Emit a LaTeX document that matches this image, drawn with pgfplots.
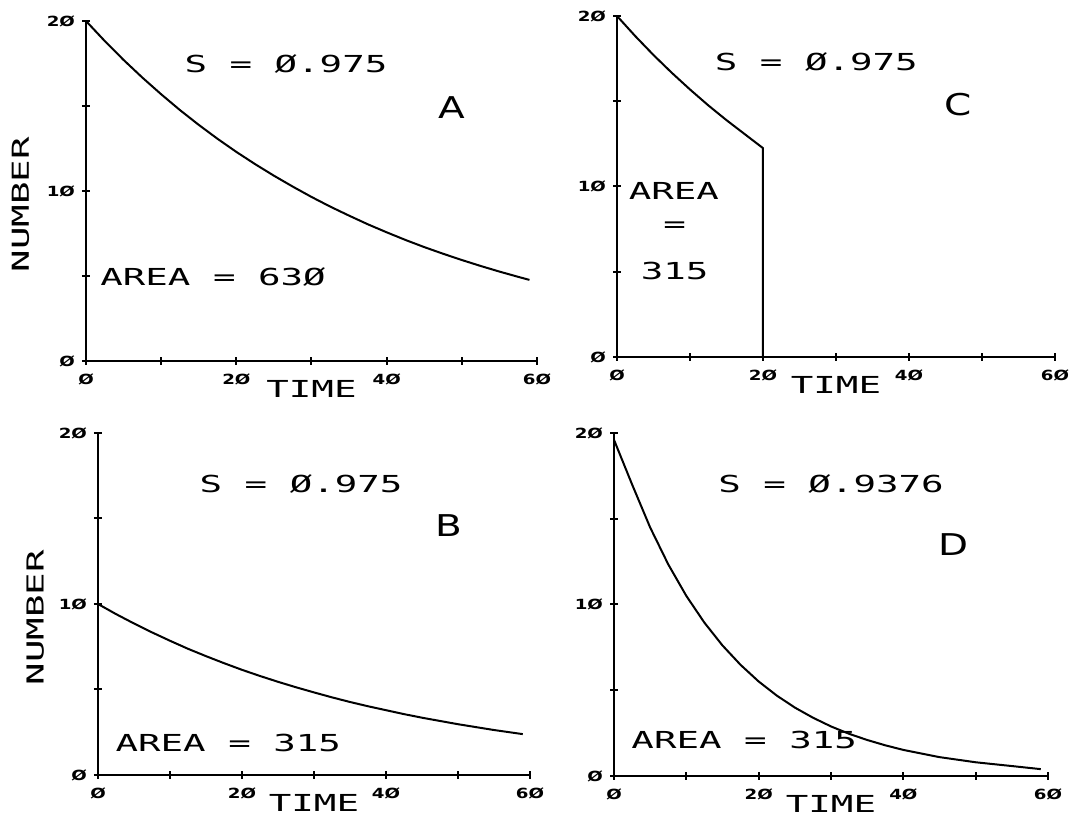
\documentclass[border=0pt]{standalone}
\usepackage{fontspec}
\setmainfont{DejaVu Sans}
\newfontfamily\plotfont[FakeStretch=1.6]{DejaVu Sans Mono}
\newfontfamily\tickfont[FakeStretch=1.3]{DejaVu Sans}
\usepackage{pgfplots}
\pgfplotsset{compat=1.18}

\newcommand{\txt}{\plotfont\fontsize{11.7}{14}\selectfont}
\newcommand{\tickfnt}{\tickfont\bfseries\fontsize{7}{8}\selectfont}
\newcommand{\letfnt}{\tickfont\fontsize{15}{18}\selectfont}

\pgfplotsset{
  panel/.style={
    scale only axis, anchor=south west,
    axis lines*=left,
    xmin=0, xmax=60, ymin=0, ymax=20,
    xtick={0,10,...,60}, xticklabels={Ø,,2Ø,,4Ø,,6Ø},
    ytick={0,5,...,20}, yticklabels={Ø,,1Ø,,2Ø},
    tick align=center, major tick length=4pt,
    axis line style={line width=1.2pt, -},
    every tick/.style={black, line width=1pt},
    tick label style={font=\tickfnt},
    xticklabel style={yshift=-1pt},
    xlabel={TIME},
    xlabel style={font=\txt, at={(axis description cs:0.5,0)}, anchor=center, yshift=-14pt},
    ylabel style={font=\txt, at={(axis description cs:-0.145,0.46)}, anchor=center},
    clip=false,
  },
  curve/.style={black, line width=1pt, no marks},
}

\begin{document}
\begin{tikzpicture}
\useasboundingbox (0,0) rectangle (539pt,412.5pt);

% A
\begin{axis}[panel, at={(43pt,232pt)}, width=225.5pt, height=170pt, ylabel={NUMBER}]
\addplot[curve] coordinates {
(0,20) (2.5,18.82) (5,17.71) (7.5,16.67) (10,15.69) (12.5,14.76) (15,13.89)
(17.5,13.07) (20,12.30) (22.5,11.58) (25,10.90) (27.5,10.26) (30,9.65)
(32.5,9.08) (35,8.55) (37.5,8.04) (40,7.57) (42.5,7.12) (45,6.70)
(47.5,6.31) (50,5.94) (52.5,5.59) (55,5.26) (57.5,4.95) (59,4.77)};
\node[font=\txt] at (axis cs:26.6,17.5) {S = Ø.975};
\node[font=\letfnt] at (axis cs:48.7,14.9) {A};
\node[font=\txt] at (axis cs:16.9,4.94) {AREA = 63Ø};
\end{axis}

% C
\begin{axis}[panel, at={(308.5pt,234pt)}, width=219pt, height=170.5pt]
\addplot[curve] coordinates {
(0,20) (2.5,18.82) (5,17.71) (7.5,16.67) (10,15.69) (12.5,14.76) (15,13.89)
(17.5,13.07) (20,12.25) (20,0)};
\node[font=\txt] at (axis cs:27.3,17.3) {S = Ø.975};
\node[font=\letfnt] at (axis cs:46.7,14.8) {C};
\node[font=\txt] at (axis cs:7.8,9.75) {AREA};
\node[font=\txt] at (axis cs:7.9,7.6) {=};
\node[font=\txt] at (axis cs:7.9,5.05) {315};
\end{axis}

% B
\begin{axis}[panel, at={(49pt,25pt)}, width=216pt, height=171pt, ylabel={NUMBER}]
\addplot[curve] coordinates {
(0,10) (2.5,9.41) (5,8.86) (7.5,8.34) (10,7.85) (12.5,7.38) (15,6.95)
(17.5,6.54) (20,6.15) (22.5,5.79) (25,5.45) (27.5,5.13) (30,4.83)
(32.5,4.54) (35,4.27) (37.5,4.02) (40,3.79) (42.5,3.56) (45,3.35)
(47.5,3.16) (50,2.97) (52.5,2.80) (55,2.63) (57.5,2.48) (59,2.39)};
\node[font=\txt] at (axis cs:28.2,17.0) {S = Ø.975};
\node[font=\letfnt] at (axis cs:48.8,14.6) {B};
\node[font=\txt] at (axis cs:18.1,1.9) {AREA = 315};
\end{axis}

% D
\begin{axis}[panel, at={(307pt,24.5pt)}, width=217pt, height=171.5pt]
\addplot[curve] coordinates {
(0,19.6) (2.5,17.0) (5,14.49) (7.5,12.34) (10,10.50) (12.5,8.94) (15,7.61)
(17.5,6.48) (20,5.51) (22.5,4.69) (25,3.99) (27.5,3.40) (30,2.89)
(32.5,2.46) (35,2.10) (37.5,1.79) (40,1.52) (45,1.10) (50,0.80)
(55,0.58) (59,0.40)};
\node[font=\txt] at (axis cs:30.0,17.0) {S = Ø.9376};
\node[font=\letfnt] at (axis cs:46.9,13.5) {D};
\node[font=\txt] at (axis cs:18.0,2.1) {AREA = 315};
\end{axis}
\end{tikzpicture}
\end{document}
